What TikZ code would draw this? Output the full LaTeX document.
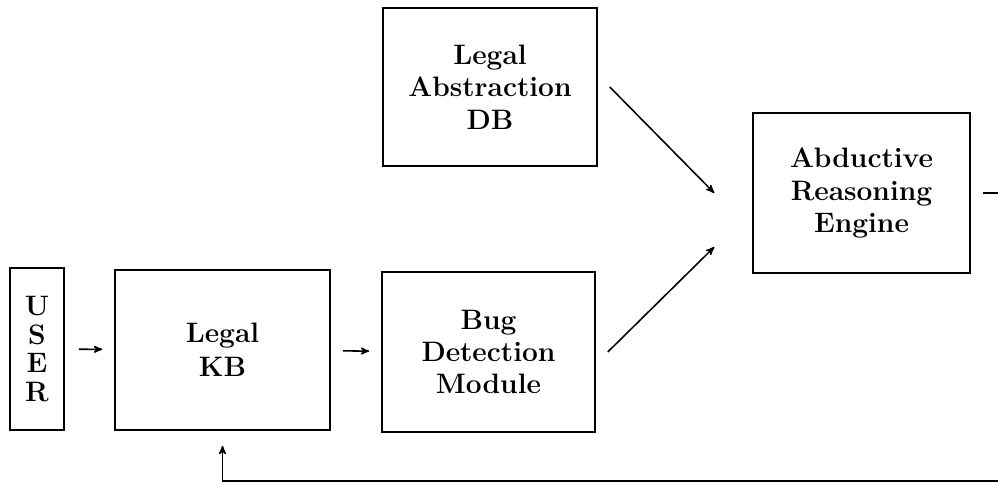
\documentclass[tikz,border=0pt]{standalone}
\usepackage{tikz}
\usetikzlibrary{arrows}

\begin{document}
\begin{tikzpicture}
  [->,>=stealth',line width=1.1pt,
   every node/.style={draw,rectangle,align=center,inner sep=0pt,
     font=\fontsize{20}{23}\selectfont\bfseries}]
  \useasboundingbox (0,0) rectangle (24.95,12.125);
  \clip (0,0) rectangle (24.95,12.125);

  \node[minimum width=1.35cm,minimum height=4.05cm,
    font=\fontsize{20}{20.5}\selectfont\bfseries] (nu) at (0.925,3.4) {U\\S\\E\\R};
  \node[minimum width=5.375cm,minimum height=4cm] (nkb) at (5.5625,3.375) {Legal\\[1pt]KB};
  \node[minimum width=5.325cm,minimum height=4cm] (nbug) at (12.2125,3.325) {Bug\\Detection\\Module};
  \node[minimum width=5.35cm,minimum height=3.95cm] (ndb) at (12.25,9.95) {Legal\\Abstraction\\DB};
  \node[minimum width=5.425cm,minimum height=4cm] (nabd) at (21.5375,7.3) {Abductive\\Reasoning\\Engine};
  \coordinate (back) at (25.4,0.1);

  \path (nu) edge[shorten <=3.5mm,shorten >=3mm] (nkb);
  \path (nkb) edge[shorten <=3mm,shorten >=3mm] (nbug);
  \path ([xshift=3mm]ndb.east) edge ([xshift=-9.5mm]nabd.west);
  \path ([xshift=3mm]nbug.east) edge ([xshift=-9.5mm,yshift=-1.35cm]nabd.west);
  % result goes back into the knowledge base
  \draw[shorten >=3.75mm] ([xshift=3mm]nabd.east) -| (back) -| (nkb.south);

\end{tikzpicture}
\end{document}
